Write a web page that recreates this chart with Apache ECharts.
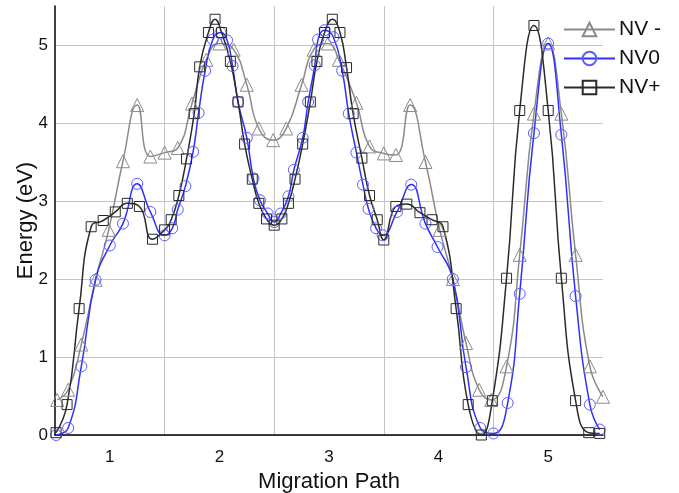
<!DOCTYPE html>
<html>
<head>
<meta charset="utf-8">
<script src="https://cdn.jsdelivr.net/npm/echarts@6/dist/echarts.min.js"></script>
<style>
  html, body { margin: 0; padding: 0; background: #fff; }
  #main { width: 679px; height: 493px; }
</style>
</head>
<body>
<div id="main"></div>
<script>
// tick labels on the x axis
var pathLabels = ['1', '2', '3', '4', '5'];
var seriesNames = ['NV -', 'NV0', 'NV+'];

// [migration path, energy (eV)]
var nvMinus = [
    [0.52, 0.45], [0.62, 0.58], [0.74, 1.16], [0.87, 1.99], [0.99, 2.63], [1.12, 3.51],
    [1.25, 4.23], [1.37, 3.57], [1.50, 3.62], [1.62, 3.68], [1.75, 4.25], [1.88, 4.81],
    [2.00, 5.02], [2.13, 4.94], [2.25, 4.49], [2.36, 3.93], [2.49, 3.78], [2.61, 3.93],
    [2.75, 4.49], [2.86, 4.94], [2.99, 5.02], [3.09, 4.81], [3.25, 4.26], [3.37, 3.70],
    [3.50, 3.61], [3.61, 3.59], [3.74, 4.23], [3.88, 3.50], [4.01, 2.63], [4.13, 2.00],
    [4.25, 1.18], [4.37, 0.58], [4.48, 0.45], [4.62, 0.88], [4.74, 2.31], [4.87, 4.12],
    [5.00, 5.02], [5.12, 4.12], [5.25, 2.31], [5.38, 0.88], [5.50, 0.49]
];
var nvZero = [
    [0.51, 0.00], [0.62, 0.09], [0.74, 0.88], [0.87, 1.99], [1.00, 2.43], [1.12, 2.71],
    [1.25, 3.22], [1.37, 2.86], [1.50, 2.56], [1.57, 2.65], [1.62, 2.89], [1.69, 3.19],
    [1.76, 3.63], [1.81, 4.13], [1.87, 4.67], [1.94, 5.07], [2.01, 5.16], [2.07, 5.06],
    [2.12, 4.73], [2.17, 4.27], [2.25, 3.81], [2.31, 3.29], [2.37, 3.01], [2.44, 2.84],
    [2.50, 2.73], [2.56, 2.84], [2.63, 3.06], [2.68, 3.40], [2.76, 3.81], [2.81, 4.27],
    [2.87, 4.74], [2.90, 5.07], [2.96, 5.19], [3.04, 5.10], [3.12, 4.67], [3.18, 4.12],
    [3.25, 3.62], [3.31, 3.21], [3.36, 2.90], [3.43, 2.65], [3.49, 2.56], [3.62, 2.86],
    [3.75, 3.21], [3.88, 2.71], [3.99, 2.41], [4.13, 2.00], [4.25, 0.87], [4.38, 0.09],
    [4.50, 0.02], [4.63, 0.41], [4.74, 1.81], [4.87, 3.87], [5.00, 5.02], [5.12, 3.85],
    [5.25, 1.78], [5.38, 0.39], [5.47, 0.07]
];
var nvPlus = [
    [0.51, 0.03], [0.61, 0.39], [0.72, 1.62], [0.83, 2.67], [0.94, 2.75], [1.05, 2.86],
    [1.16, 2.97], [1.27, 2.93], [1.39, 2.51], [1.50, 2.63], [1.56, 2.76], [1.63, 3.07],
    [1.70, 3.54], [1.77, 4.12], [1.82, 4.72], [1.90, 5.16], [1.96, 5.33], [2.02, 5.16],
    [2.10, 4.79], [2.17, 4.27], [2.23, 3.73], [2.30, 3.28], [2.36, 2.97], [2.43, 2.77],
    [2.50, 2.69], [2.57, 2.77], [2.63, 2.97], [2.69, 3.28], [2.76, 3.73], [2.83, 4.27],
    [2.89, 4.79], [2.96, 5.16], [3.03, 5.33], [3.10, 5.16], [3.16, 4.71], [3.22, 4.12],
    [3.30, 3.55], [3.37, 3.07], [3.44, 2.76], [3.50, 2.50], [3.61, 2.93], [3.71, 2.96],
    [3.83, 2.85], [3.94, 2.76], [4.04, 2.67], [4.16, 1.62], [4.27, 0.39], [4.39, 0.00],
    [4.49, 0.44], [4.62, 2.01], [4.74, 4.16], [4.87, 5.25], [5.00, 4.16], [5.12, 2.01],
    [5.25, 0.44], [5.37, 0.03], [5.47, 0.02]
];

var fontName = 'Liberation Sans';

function makeSeries(name, data, lineColor, markColor, symbol, size) {
    return {
        name: name,
        type: 'line',
        xAxisIndex: 1,
        data: data,
        smooth: 0.5,
        symbol: symbol,
        symbolSize: size,
        showAllSymbol: true,
        lineStyle: { color: lineColor, width: 1.5 },
        itemStyle: { color: 'transparent', borderColor: markColor, borderWidth: 1 },
        emphasis: { disabled: true }
    };
}

var myChart = echarts.init(document.getElementById('main'));
var option = {
    animation: false,
    backgroundColor: '#fff',
    textStyle: { fontFamily: fontName },
    grid: { left: 55, right: 76, top: 6, bottom: 58, containLabel: false, outerBoundsMode: 'none' },
    legend: {
        orient: 'vertical',
        left: 563,
        top: 19,
        padding: 0,
        itemWidth: 51,
        itemHeight: 17,
        itemGap: 8,
        data: seriesNames,
        textStyle: { fontFamily: fontName, fontSize: 21, color: '#111', padding: [0, 0, 0, -1] }
    },
    xAxis: [
        {
            type: 'category',
            data: pathLabels,
            boundaryGap: true,
            name: 'Migration Path',
            nameLocation: 'middle',
            nameGap: 32,
            nameTextStyle: { fontFamily: fontName, fontSize: 22, color: '#111' },
            axisLine: { lineStyle: { color: '#000', width: 1.5 } },
            axisTick: { show: false },
            axisLabel: { fontFamily: fontName, fontSize: 17, color: '#111', margin: 14 },
            splitLine: {
                show: true,
                showMinLine: false,
                showMaxLine: false,
                lineStyle: { color: '#c4c4c4', width: 1 }
            }
        },
        {
            type: 'value',
            min: 0.5,
            max: 5.5,
            show: false
        }
    ],
    yAxis: {
        type: 'value',
        min: 0,
        max: 5.5,
        interval: 1,
        name: 'Energy (eV)',
        nameLocation: 'middle',
        nameGap: 18,
        nameMoveOverlap: false,
        nameTextStyle: { fontFamily: fontName, fontSize: 22, color: '#111' },
        axisLine: { show: true, lineStyle: { color: '#000', width: 1.5 } },
        axisTick: { show: false },
        axisLabel: { fontFamily: fontName, fontSize: 17, color: '#111', margin: 7, showMaxLabel: false },
        splitLine: {
            show: true,
            showMaxLine: false,
            lineStyle: { color: '#c4c4c4', width: 1 }
        }
    },
    series: [
        makeSeries(seriesNames[0], nvMinus, '#8a8a8a', '#8a8a8a', 'triangle', 13),
        makeSeries(seriesNames[1], nvZero, '#2f2fff', '#5c5cff', 'circle', 11),
        makeSeries(seriesNames[2], nvPlus, '#2a2a2a', '#2a2a2a', 'rect', 10)
    ]
};
myChart.setOption(option);
</script>
</body>
</html>
